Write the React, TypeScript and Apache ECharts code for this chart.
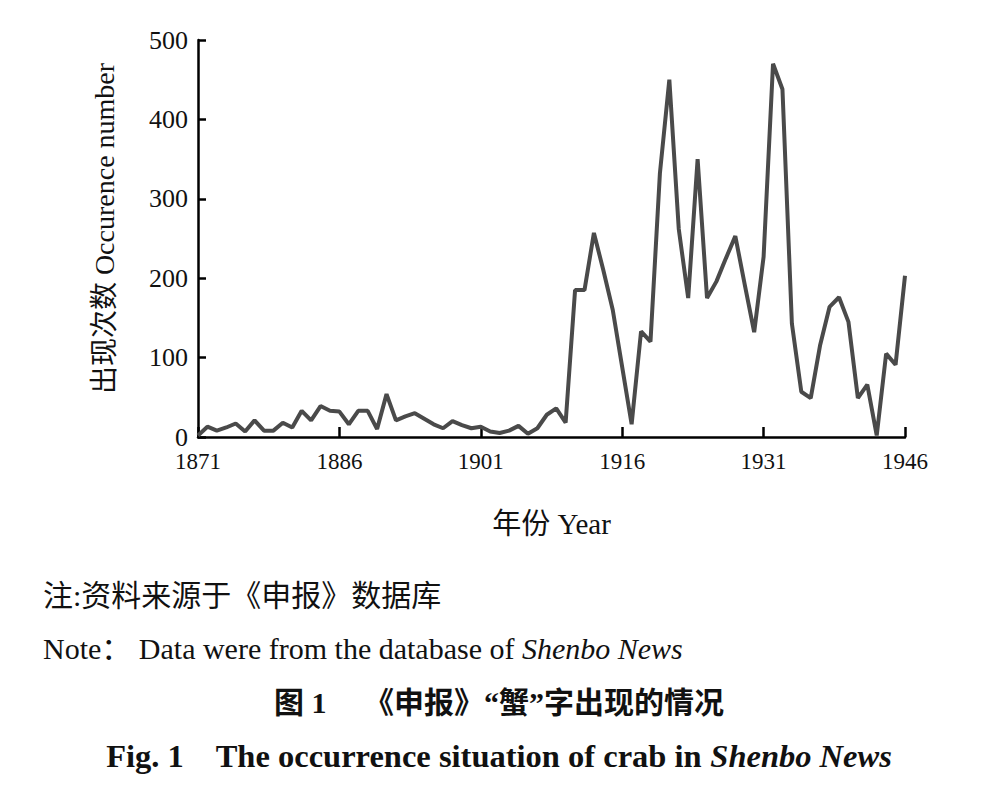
import React, { useEffect, useRef } from "react";
import * as echarts from "echarts";

const years: string[] = [];
for (let y = 1871; y <= 1946; y++) years.push(String(y));

const counts: number[] = [
  2, 13, 8, 12, 17, 7, 21, 8, 8, 18,
  12, 33, 21, 39, 33, 32, 16, 33, 33, 10,
  54, 21, 26, 30, 23, 16, 11, 20, 15, 11,
  13, 7, 5, 8, 14, 4, 11, 28, 36, 18,
  185, 185, 257, 210, 160, 88, 16, 133, 120, 332,
  450, 262, 175, 350, 175, 196, 225, 253, 192, 132,
  227, 470, 438, 143, 57, 49, 116, 164, 176, 145,
  49, 66, 2, 105, 91, 203,
];

const yTicks = { min: 0, max: 500, interval: 100 };

const yName = "出现次数 Occurence number";
const xName = "年份 Year";
const noteCn = "注:资料来源于《申报》数据库";
const noteEnPlain = "Note： Data were from the database of ";
const noteEnItalic = "Shenbo News";
const figCn = "图 1　 《申报》“蟹”字出现的情况";
const figEnPlain = "Fig. 1    The occurrence situation of crab in ";
const figEnItalic = "Shenbo News";

const SERIF = "'Liberation Serif', 'Noto Sans CJK SC', serif";
const SANS_CJK = "'Liberation Serif', 'Noto Sans CJK SC', sans-serif";

export default function App() {
  const ref = useRef<HTMLDivElement>(null);
  useEffect(() => {
    if (!ref.current) return;
    const chart = echarts.init(ref.current, undefined, { renderer: "svg" });
    chart.setOption({
      animation: false,
      backgroundColor: "#ffffff",
      grid: { left: 198, right: 93, top: 40, bottom: 350, containLabel: false },
      xAxis: {
        type: "category",
        data: years,
        boundaryGap: false,
        name: xName,
        nameLocation: "middle",
        nameGap: 72,
        nameTextStyle: { fontFamily: SERIF, fontSize: 29, color: "#111" },
        axisLine: { lineStyle: { color: "#000", width: 2.5 } },
        axisTick: { show: true, inside: true, length: 10, interval: 14, lineStyle: { color: "#000", width: 2.5 } },
        axisLabel: { interval: 14, margin: 13, fontFamily: SERIF, fontSize: 23, color: "#111" },
        splitLine: { show: false },
      },
      yAxis: {
        type: "value",
        min: yTicks.min,
        max: yTicks.max,
        interval: yTicks.interval,
        name: yName,
        nameLocation: "middle",
        nameRotate: 90,
        nameGap: 80,
        nameTextStyle: { fontFamily: SERIF, fontSize: 28, color: "#111", padding: [0, 0, 0, 20] },
        axisLine: { show: true, lineStyle: { color: "#000", width: 2.5 } },
        axisTick: { show: true, inside: true, length: 8, lineStyle: { color: "#000", width: 2.5 } },
        axisLabel: { margin: 10, fontFamily: SERIF, fontSize: 26, color: "#111" },
        splitLine: { show: false },
      },
      series: [
        {
          type: "line",
          data: counts,
          symbol: "none",
          lineStyle: { color: "#4a4a4a", width: 4 },
        },
      ],
      graphic: [
        {
          type: "text",
          left: 43,
          top: 580,
          style: { text: noteCn, font: `30px ${SERIF}`, fill: "#111" },
        },
        {
          type: "text",
          left: 43,
          top: 633,
          style: {
            text: `{a|${noteEnPlain}}{i|${noteEnItalic}}`,
            rich: {
              a: { fontFamily: SERIF, fontSize: 30, fill: "#111" },
              i: { fontFamily: SERIF, fontSize: 30, fontStyle: "italic", fill: "#111" },
            },
          },
        },
        {
          type: "text",
          left: "center",
          top: 687,
          style: { text: figCn, font: `bold 30px ${SANS_CJK}`, fill: "#111" },
        },
        {
          type: "text",
          left: "center",
          top: 740,
          style: {
            text: `{a|${figEnPlain}}{i|${figEnItalic}}`,
            rich: {
              a: { fontFamily: SERIF, fontSize: 32.5, fontWeight: "bold", fill: "#111" },
              i: { fontFamily: SERIF, fontSize: 32.5, fontWeight: "bold", fontStyle: "italic", fill: "#111" },
            },
          },
        },
      ],
    });
    return () => chart.dispose();
  }, []);
  return (
    <div
      ref={ref}
      style={{ position: "absolute", left: 0, top: 0, width: 998, height: 787 }}
    />
  );
}
